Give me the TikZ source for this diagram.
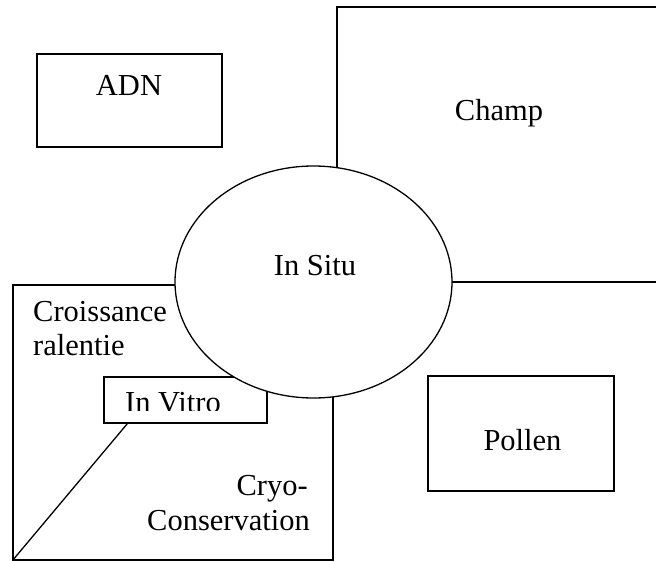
\documentclass[tikz,border=0pt]{standalone}
\usepackage{fontspec}
\setmainfont{Liberation Serif}
\usetikzlibrary{shapes.geometric,calc}
\begin{document}
\begin{tikzpicture}[x=1pt,y=-1pt,
  box/.style={draw,line width=1.3pt,rectangle,inner sep=0pt},
  lbl/.style={font=\fontsize{30.5}{34}\selectfont,inner sep=0pt}]
\useasboundingbox (0,0) rectangle (656,562);
% boxes
\node[box,minimum width=185pt,minimum height=93pt] (adn) at (129.5,100.5) {};
\node[box,minimum width=186pt,minimum height=115pt] (pollen) at (521,433.5) {};
\node[box,minimum width=320pt,minimum height=275pt] (cons) at (173,422.5) {};
\node[box,fill=white,minimum width=163pt,minimum height=46pt] (invitro) at (185.5,400) {};
\coordinate (c1) at (656,7);
\coordinate (c2) at (337,7);
\coordinate (c3) at (337,282);
\coordinate (c4) at (656,282);
\draw[line width=1.3pt] (c1) -- (c2) -- (c3) -- (c4);
% connector
\draw[line width=1.3pt] ($(invitro.south west)+(24,0)$) -- (cons.south west);
% ellipse
\node[draw,fill=white,line width=1.3pt,ellipse,inner sep=0pt,minimum width=277pt,minimum height=232pt] (situ) at (313.5,282) {};
% texts
\node[lbl,anchor=base] (tadn) at (129,95) {ADN};
\node[lbl,anchor=base] (tchamp) at (499,120) {Champ};
\node[lbl,anchor=base] (tsitu) at (315,275.5) {In Situ};
\node[lbl,anchor=base] (tpollen) at (522.5,450.5) {Pollen};
\node[lbl,anchor=base west] (tcr1) at (33,321.5) {Croissance};
\node[lbl,anchor=base west] (tcr2) at (33,355.5) {ralentie};
\node[lbl,anchor=base east] (tcy1) at (308,495) {Cryo-};
\node[lbl,anchor=base east] (tcy2) at (310,530.5) {Conservation};
\begin{scope}
\clip (104,377) rectangle (267,410);
\node[lbl,anchor=base west] (tvitro) at (125,412.5) {In Vitro};
\end{scope}
\end{tikzpicture}
\end{document}
